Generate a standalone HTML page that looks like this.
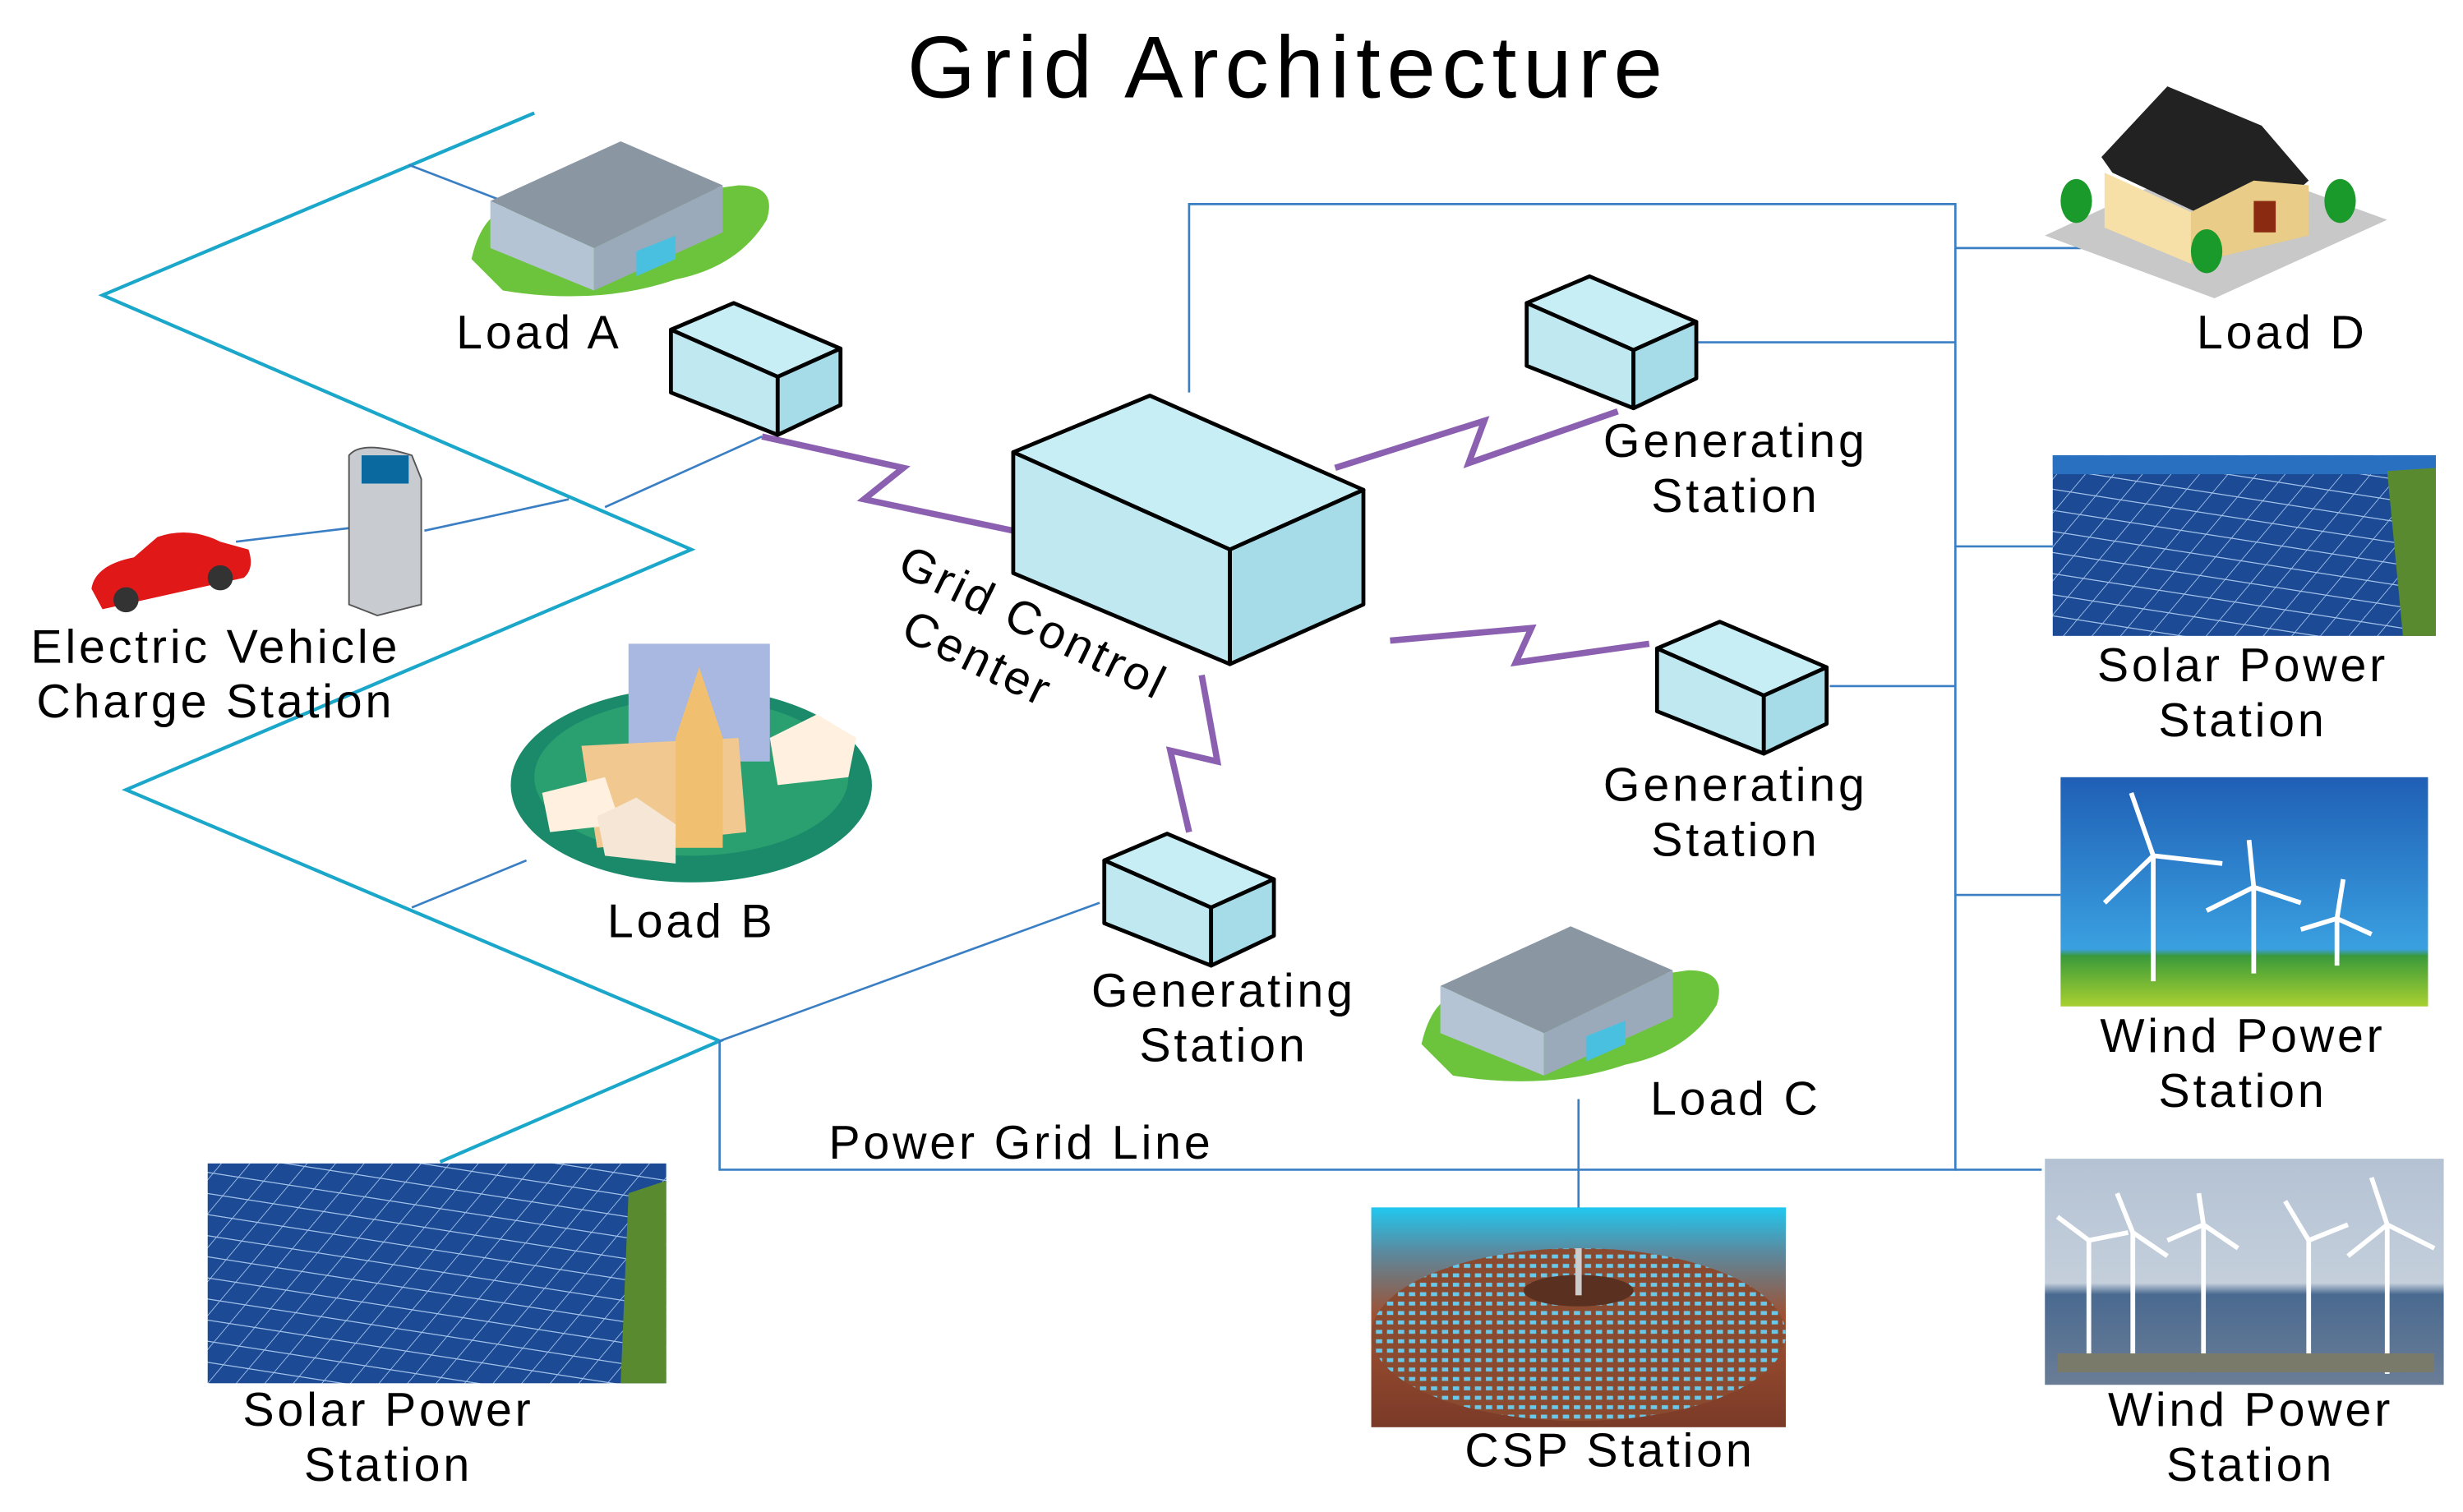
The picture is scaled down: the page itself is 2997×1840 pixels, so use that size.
<!DOCTYPE html>
<html><head><meta charset="utf-8"><style>
html,body{margin:0;padding:0;background:#fff;}
svg{display:block;}
text{font-family:"Liberation Sans",sans-serif;fill:#000;}
</style></head><body>
<svg width="2997" height="1840" viewBox="0 0 1568 963" xmlns="http://www.w3.org/2000/svg">
<defs>
<linearGradient id="sky" x1="0" y1="0" x2="0" y2="1"><stop offset="0" stop-color="#1f5fb5"/><stop offset="0.75" stop-color="#3aa0e0"/><stop offset="0.78" stop-color="#3a9a3a"/><stop offset="1" stop-color="#a8d030"/></linearGradient>
<linearGradient id="sky2" x1="0" y1="0" x2="0" y2="1"><stop offset="0" stop-color="#b4c2d4"/><stop offset="0.55" stop-color="#c4cfdb"/><stop offset="0.6" stop-color="#4a6a90"/><stop offset="1" stop-color="#6a7d96"/></linearGradient>
<linearGradient id="csp" x1="0" y1="0" x2="0" y2="1"><stop offset="0" stop-color="#20c8f0"/><stop offset="0.2" stop-color="#5a8aa0"/><stop offset="0.5" stop-color="#a05030"/><stop offset="1" stop-color="#7a3a28"/></linearGradient>
<pattern id="grid" width="18" height="12" patternUnits="userSpaceOnUse" patternTransform="skewX(-35) rotate(8)"><rect width="18" height="12" fill="#1c4a94"/><path d="M0 0H18M0 0V12" stroke="#a0c0e8" stroke-width="1.2"/></pattern>
<pattern id="dots" width="7" height="6" patternUnits="userSpaceOnUse"><rect width="7" height="6" fill="#8a4a30"/><rect x="1" y="1" width="4" height="2.5" fill="#6ac8e8"/></pattern>
</defs>

<text x="820" y="62" font-size="56" letter-spacing="4" text-anchor="middle">Grid Architecture</text>

<polyline points="340,72 65,188 440,350 80,503 458,663 280,740" fill="none" stroke="#1aa7c9" stroke-width="2.2"/>

<g stroke="#3a7fc4" stroke-width="1.4" fill="none">
<path d="M757,250V130H1245V745H458V663"/>
<path d="M1245,745H1300"/>
<path d="M1245,158H1325M1080,218H1245M1245,348H1307M1165,437H1245M1245,570H1312"/>
<path d="M1005,700V770"/>
<path d="M260,105L320,128M385,323L485,278M150,345L225,336M270,338L362,318M262,578L335,548M458,663L700,575"/>
</g>

<g stroke="#8c60b0" stroke-width="4" fill="none" stroke-linejoin="miter">
<polyline points="485,278 575,298 550,318 645,338"/>
<polyline points="850,298 945,268 935,295 1030,262"/>
<polyline points="885,408 975,400 965,422 1050,410"/>
<polyline points="765,430 775,485 745,478 757,530"/>
</g>

<g stroke="#000" stroke-width="2.5" stroke-linejoin="round">
<g id="bx">
<path d="M427,210L467,193L535,222L495,240Z" fill="#c8eef5"/>
<path d="M427,210L495,240L495,277L427,250Z" fill="#bfe8f0"/>
<path d="M495,240L535,222L535,258L495,277Z" fill="#a6dce8"/>
</g>
<use href="#bx" transform="translate(545,-17)"/>
<use href="#bx" transform="translate(628,203)"/>
<use href="#bx" transform="translate(276,338)"/>
<path d="M645,288L732,252L868,312L783,350Z" fill="#c8eef5"/>
<path d="M645,288L783,350L783,423L645,365Z" fill="#bfe8f0"/>
<path d="M783,350L868,312L868,385L783,423Z" fill="#a6dce8"/>
</g>

<g id="bld">
<path d="M300,165 Q310,120 350,135 L470,118 Q495,118 488,140 Q470,170 430,178 Q380,195 320,185Z" fill="#6cc43c"/>
<path d="M312,128L395,90L460,118L378,158Z" fill="#8a96a2"/>
<path d="M312,128L378,158L378,185L312,158Z" fill="#b4c4d4"/>
<path d="M378,158L460,118L460,148L378,185Z" fill="#9aaabb"/>
<path d="M405,160L430,150L430,165L405,176Z" fill="#4ac0e0"/>
</g>
<use href="#bld" transform="translate(605,500)"/>

<path d="M58,375 Q60,360 85,355 L100,342 Q120,335 140,345 L158,350 Q162,362 155,368 L65,388Z" fill="#e01818"/>
<circle cx="80" cy="382" r="8" fill="#333"/><circle cx="140" cy="368" r="8" fill="#333"/>
<path d="M222,290 Q230,280 262,290 L268,305 L268,385 L240,392 L222,385Z" fill="#c8ccd0" stroke="#555" stroke-width="1"/>
<rect x="230" y="290" width="30" height="18" fill="#0a6aa0"/>

<ellipse cx="440" cy="500" rx="115" ry="62" fill="#1a8a6a"/>
<ellipse cx="440" cy="495" rx="100" ry="50" fill="#2aa070"/>
<rect x="400" y="410" width="90" height="75" fill="#a8b8e0"/>
<path d="M370,475L470,470L475,530L380,540Z" fill="#f0c890"/>
<path d="M430,470L445,425L460,470L460,540L430,540Z" fill="#f0c070"/>
<path d="M345,505L385,495L395,525L350,530Z" fill="#fff0e0"/>
<path d="M490,470L520,455L545,470L540,495L495,500Z" fill="#fff0e0"/>
<path d="M380,520L405,508L430,525L430,550L385,545Z" fill="#f5e6d6"/>

<path d="M1302,150L1410,100L1520,140L1410,190Z" fill="#c8c8c8"/>
<path d="M1338,100L1380,55L1440,80L1470,115L1430,150L1345,110Z" fill="#222"/>
<path d="M1340,110L1395,135L1395,168L1340,145Z" fill="#f6e0a8"/>
<path d="M1395,135L1435,115L1470,118L1470,150L1395,168Z" fill="#e8cc88"/>
<rect x="1435" y="128" width="14" height="20" fill="#8a2a10"/>
<ellipse cx="1322" cy="128" rx="10" ry="14" fill="#1a9a2a"/><ellipse cx="1490" cy="128" rx="10" ry="14" fill="#1a9a2a"/><ellipse cx="1405" cy="160" rx="10" ry="14" fill="#1a9a2a"/>

<rect x="1307" y="290" width="244" height="115" fill="url(#grid)"/>
<rect x="1307" y="290" width="244" height="12" fill="#2a70c0"/>
<path d="M1520,300L1551,298L1551,405L1530,405Z" fill="#5a8a30"/>
<rect x="132" y="741" width="292" height="140" fill="url(#grid)"/>
<path d="M400,760L424,752L424,881L395,881Z" fill="#5a8a30"/>
<rect x="1312" y="495" width="234" height="146" fill="url(#sky)"/>
<rect x="1302" y="738" width="254" height="144" fill="url(#sky2)"/>
<g stroke="#fff" stroke-width="3" fill="none">
<path d="M1371,625V545L1357,505M1371,545L1415,550M1371,545L1340,575"/>
<path d="M1435,620V565L1432,535M1435,565L1465,575M1435,565L1405,580"/>
<path d="M1488,615V585L1492,560M1488,585L1510,595M1488,585L1465,592"/>
<path d="M1330,870V790L1310,775M1330,790L1355,785M1358,868V785L1348,760M1358,785L1380,800M1403,870V780L1400,760M1403,780L1425,795M1403,780L1380,790M1470,872V790L1455,765M1470,790L1495,780M1520,875V780L1510,750M1520,780L1550,795M1520,780L1495,800"/>
</g>
<rect x="1310" y="862" width="240" height="12" fill="#7a7a6a"/>
<rect x="873" y="769" width="264" height="140" fill="url(#csp)"/>
<ellipse cx="1005" cy="850" rx="132" ry="55" fill="url(#dots)"/>
<ellipse cx="1005" cy="822" rx="35" ry="10" fill="#5a3020"/>
<rect x="1003" y="795" width="4" height="30" fill="#ccc"/>

<g font-size="30" letter-spacing="2">
<text x="343" y="222" text-anchor="middle">Load A</text>
<text x="1453" y="222" text-anchor="middle">Load D</text>
<text x="137" y="422" text-anchor="middle">Electric Vehicle</text>
<text x="137" y="457" text-anchor="middle">Charge Station</text>
<text x="440" y="597" text-anchor="middle">Load B</text>
<text x="1105" y="291" text-anchor="middle">Generating</text>
<text x="1105" y="326" text-anchor="middle">Station</text>
<text x="1105" y="510" text-anchor="middle">Generating</text>
<text x="1105" y="545" text-anchor="middle">Station</text>
<text x="779" y="641" text-anchor="middle">Generating</text>
<text x="779" y="676" text-anchor="middle">Station</text>
<text x="1105" y="710" text-anchor="middle">Load C</text>
<text x="650" y="738" text-anchor="middle">Power Grid Line</text>
<text x="1428" y="434" text-anchor="middle">Solar Power</text>
<text x="1428" y="469" text-anchor="middle">Station</text>
<text x="1428" y="670" text-anchor="middle">Wind Power</text>
<text x="1428" y="705" text-anchor="middle">Station</text>
<text x="1433" y="908" text-anchor="middle">Wind Power</text>
<text x="1433" y="943" text-anchor="middle">Station</text>
<text x="247" y="908" text-anchor="middle">Solar Power</text>
<text x="247" y="943" text-anchor="middle">Station</text>
<text x="1025" y="934" text-anchor="middle">CSP Station</text>
<g transform="translate(570,365) rotate(26)"><text x="0" y="0">Grid Control</text><text x="20" y="36">Center</text></g>
</g>
</svg>
</body></html>
